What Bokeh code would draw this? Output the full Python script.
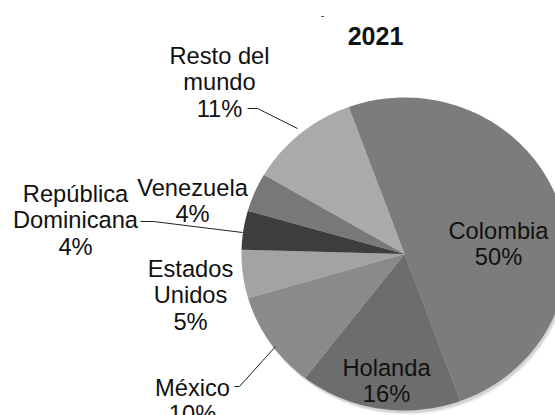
import numpy as np
from bokeh.plotting import figure
from bokeh.models import ColumnDataSource, Range1d
from bokeh.core.properties import value
from bokeh.embed import file_html
from bokeh.resources import INLINE

# ---- data ----
categories = ["Colombia", "Holanda", "México", "Estados Unidos",
              "República Dominicana", "Venezuela", "Resto del mundo"]
shares = [50, 16, 10, 5, 4, 4, 11]
display_names = ["Colombia", "Holanda", "México", "Estados\nUnidos",
                 "República\nDominicana", "Venezuela", "Resto del\nmundo"]
colors = ["#7c7c7c", "#6d6d6d", "#8a8a8a", "#a3a3a3",
          "#3d3d3d", "#787878", "#aaaaaa"]
title_text = "2021"

# ---- layout constants (image pixel coordinates) ----
W, H = 555, 415
def X(ix):
    return ix
def Y(iy):
    return H - iy

CX, CY = 404.0, 253.5
RX, RY = 163.0, 156.5
START_DEG = -20.0          # clockwise from 12 o'clock
FONT = "Liberation Sans"
FS = 23.7
LINE_H = 26.6

# label anchors: (center x, baseline of first line)
label_anchor = [(498, 230), (386, 367), (192, 387), (190, 268),
                (75, 193), (192, 187), (219, 55)]
# leader lines (image coords) for some labels
leaders = {
    "Resto del mundo": [(247, 108), (257, 108), (297, 128)],
    "República Dominicana": [(140, 221), (153, 221), (242, 232)],
    "México": [(234, 386), (239, 386), (275, 346)],
}

p = figure(width=W, height=H, output_backend="svg", toolbar_location=None,
           x_range=Range1d(0, W), y_range=Range1d(0, H), min_border=0)
p.axis.visible = False
p.grid.visible = False
p.outline_line_color = None
p.background_fill_color = "white"

# slices built from the shares
total = float(sum(shares))
xs, ys = [], []
acc = START_DEG
for s in shares:
    a0 = acc
    a1 = acc + 360.0 * s / total
    acc = a1
    th = np.radians(np.linspace(a0, a1, 80))
    px = np.concatenate([[X(CX)], X(CX) + RX * np.sin(th)])
    py = np.concatenate([[Y(CY)], Y(CY) + RY * np.cos(th)])
    xs.append(px.tolist())
    ys.append(py.tolist())

# soft shadow
th = np.radians(np.linspace(0, 360, 200))
for off, alpha in [(4, 0.15), (2.5, 0.25)]:
    p.patch((X(CX) + off * 0.6 + RX * np.sin(th)).tolist(),
            (Y(CY) - off + RY * np.cos(th)).tolist(),
            fill_color="#888888", fill_alpha=alpha, line_color=None)

src = ColumnDataSource(dict(xs=xs, ys=ys, color=colors, name=categories))
p.patches("xs", "ys", source=src, fill_color="color", line_color=None)

# labels
tx, ty, tt = [], [], []
for name, share, (ax, ay) in zip(display_names, shares, label_anchor):
    lines = name.split("\n") + [f"{share}%"]
    for i, ln in enumerate(lines):
        tx.append(X(ax))
        ty.append(Y(ay + i * LINE_H))
        tt.append(ln)
p.text(tx, ty, text=tt, text_font=value(FONT), text_font_size=f"{FS}px",
       text_align="center", text_baseline="alphabetic", text_color="#111111")

# leader lines
for cat, pts in leaders.items():
    p.line([X(a) for a, b in pts], [Y(b) for a, b in pts],
           line_color="#222222", line_width=1)

# title
p.text([X(375)], [Y(35)], text=[title_text], text_font=value(FONT),
       text_font_size="25px", text_font_style="bold", text_align="center",
       text_baseline="alphabetic", text_color="#111111")
# tiny mark above title
p.text([X(322)], [Y(14)], text=["-"], text_font=value(FONT),
       text_font_size="11px", text_align="center",
       text_baseline="alphabetic", text_color="#333333")

open("out.html", "w").write(file_html(p, INLINE))
